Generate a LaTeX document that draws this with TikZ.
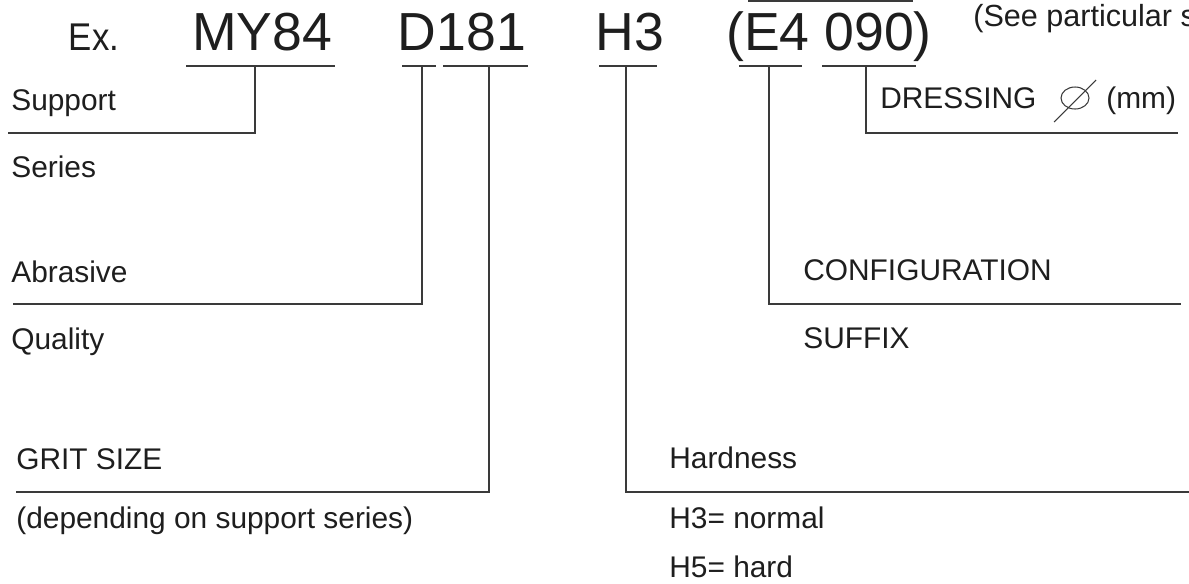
\documentclass[tikz,border=0pt]{standalone}
\usepackage{fontspec}
\setmainfont{Liberation Sans}
\usepackage{tikz}

\definecolor{ink}{HTML}{1E1E1E}
\definecolor{rule}{HTML}{3A3A3A}

\begin{document}
\begin{tikzpicture}[
  x=0.02cm, y=-0.02cm,
  codetxt/.style={anchor=base, inner sep=0pt, text=ink, font=\fontsize{30.5}{30.5}\selectfont},
  txt/.style={anchor=base west, inner sep=0pt, text=ink, font=\fontsize{17}{17}\selectfont},
  lead/.style={draw=rule, line width=0.8pt}
]
  \useasboundingbox (0,0) rectangle (1189,583);

  % the code itself
  \node[codetxt, font=\fontsize{22}{22}\selectfont] (ex) at (94,50) {\scalebox{0.9}[1]{Ex.}};
  \node[codetxt] (my) at (262,50) {MY84};
  \node[codetxt] (d) at (462,50) {D181};
  \node[codetxt] (h) at (630,50) {H3};
  \node[codetxt] (e) at (829,50) {(E4 090)};
  \node[txt, font=\fontsize{17.4}{17.4}\selectfont] (see) at (973,26) {(See particular s};

  % labels, left side
  \node[txt] (sup) at (11,110) {Support};
  \node[txt] (ser) at (11,177) {Series};
  \node[txt] (abr) at (11,282) {Abrasive};
  \node[txt] (qua) at (11,349) {Quality};
  \node[txt] (grit) at (16,469) {GRIT SIZE};
  \node[txt] (dep) at (16,528) {(depending on support series)};

  % labels, right side
  \node[txt] (dre) at (880,108) {DRESSING};
  \node[txt] (mm) at (1106,108) {(mm)};
  \node[txt] (conf) at (803,280) {CONFIGURATION};
  \node[txt] (suf) at (803,348) {SUFFIX};
  \node[txt] (hard) at (669,468) {Hardness};
  \node[txt] (hnor) at (669,528) {H3= normal};
  \node[txt] (hhar) at (669,577) {H5= hard};

  % diameter sign
  \draw[lead, line width=0.6pt] (1075,98) ellipse [x radius=14, y radius=11];
  \draw[lead, line width=0.6pt] (1054,122) -- (1096,80);

  % underlines
  \draw[lead] (748,1) -- (913,1);
  \draw[lead] (186,66) -- (335,66);
  \draw[lead] (402,66) -- (436,66);
  \draw[lead] (443,66) -- (528,66);
  \draw[lead] (599,66) -- (657,66);
  \draw[lead] (739,66) -- (802,66);
  \draw[lead] (822,66) -- (916,66);

  % leader lines
  \coordinate (tMY) at (255,66);
  \coordinate (tD) at (422,66);
  \coordinate (tGR) at (489,66);
  \coordinate (tH) at (626,66);
  \coordinate (tE) at (769,66);
  \coordinate (tDI) at (866,66);
  \coordinate (endSup) at (8,133);
  \coordinate (endAbr) at (13,304);
  \coordinate (endGr) at (16,492);
  \coordinate (endH) at (1189,492);
  \coordinate (endE) at (1181,304);
  \coordinate (endDI) at (1178,133);

  \draw[lead] (tMY) |- (endSup);
  \draw[lead] (tD) |- (endAbr);
  \draw[lead] (tGR) |- (endGr);
  \draw[lead] (tH) |- (endH);
  \draw[lead] (tE) |- (endE);
  \draw[lead] (tDI) |- (endDI);
\end{tikzpicture}
\end{document}
